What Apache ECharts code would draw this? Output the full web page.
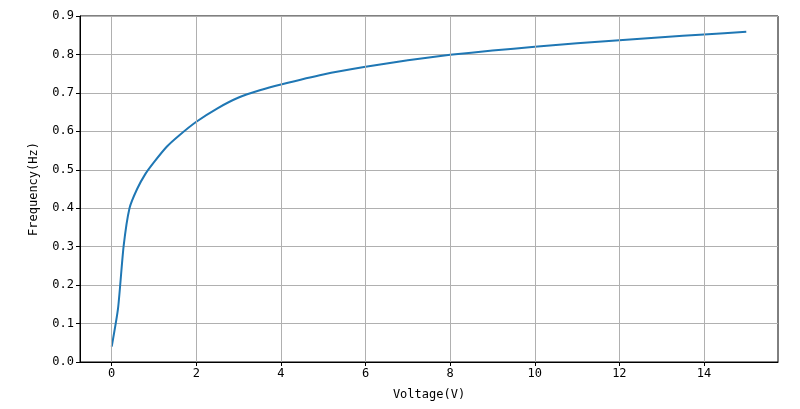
<!DOCTYPE html>
<html>
<head>
<meta charset="utf-8">
<script src="https://cdn.jsdelivr.net/npm/echarts@6/dist/echarts.min.js"></script>
<style>
  html, body { margin: 0; padding: 0; background: #fff; }
  #chart { width: 800px; height: 409px; }
</style>
</head>
<body>
<div id="chart"></div>
<script>
// 数据
const voltage = [0, 0.15, 0.28, 0.42, 0.6, 0.8, 1.0, 1.3, 1.6, 2.0, 2.5, 3.0, 3.5, 4.0, 5.0, 6.0, 7.0, 8.0, 9.0, 10.0, 11.0, 12.0, 13.0, 14.0, 15.0];
const frequency = [0.04, 0.14, 0.30, 0.40, 0.45, 0.49, 0.52, 0.56, 0.59, 0.625, 0.66, 0.688, 0.707, 0.722, 0.748, 0.768, 0.785, 0.799, 0.81, 0.82, 0.829, 0.837, 0.845, 0.852, 0.859];
const xTicks = [0, 2, 4, 6, 8, 10, 12, 14];

const chart = echarts.init(document.getElementById('chart'));
const font = 'DejaVu Sans Mono';
chart.setOption({
    animation: false,
    grid: { left: 80, right: 22, top: 16, bottom: 47 },
    xAxis: {
        type: 'value', min: -0.75, max: 15.75,
        name: 'Voltage(V)', nameLocation: 'middle', nameGap: 27,
        nameTextStyle: { color: '#000', fontSize: 12, fontFamily: font },
        axisLine: { onZero: false, lineStyle: { color: '#000' } },
        axisTick: { show: true, customValues: xTicks, length: 4, lineStyle: { color: '#000' } },
        axisLabel: { customValues: xTicks, color: '#000', fontSize: 12, fontFamily: font, margin: 6 },
        splitLine: { show: false }
    },
    yAxis: {
        type: 'value', min: 0, max: 0.9, interval: 0.1,
        name: 'Frequency(Hz)', nameLocation: 'middle', nameGap: 40, nameRotate: 90,
        nameTextStyle: { color: '#000', fontSize: 12, fontFamily: font },
        axisLine: { show: true, onZero: false, lineStyle: { color: '#000' } },
        axisTick: { show: true, length: 4, lineStyle: { color: '#000' } },
        axisLabel: { color: '#000', fontSize: 12, fontFamily: font, margin: 6,
            formatter: v => v.toFixed(1) },
        splitLine: { show: true, lineStyle: { color: '#b0b0b0', width: 1 } }
    },
    series: [
        // x 方向网格线
        {
            type: 'line', data: [], silent: true,
            markLine: {
                symbol: 'none', silent: true, label: { show: false },
                lineStyle: { color: '#b0b0b0', type: 'solid', width: 1 },
                data: xTicks.map(v => ({ xAxis: v }))
            }
        },
        {
            type: 'line', showSymbol: false, smooth: 0.2,
            data: voltage.map((v, i) => [v, frequency[i]]),
            lineStyle: { color: '#1f77b4', width: 2 },
            itemStyle: { color: '#1f77b4' }
        }
    ],
    // 补上右边和上边的边框
    graphic: [{
        type: 'rect', silent: true,
        shape: { x: 80, y: 16, width: 698, height: 346 },
        style: { fill: 'none', stroke: '#000', lineWidth: 1 }
    }]
});
</script>
</body>
</html>
